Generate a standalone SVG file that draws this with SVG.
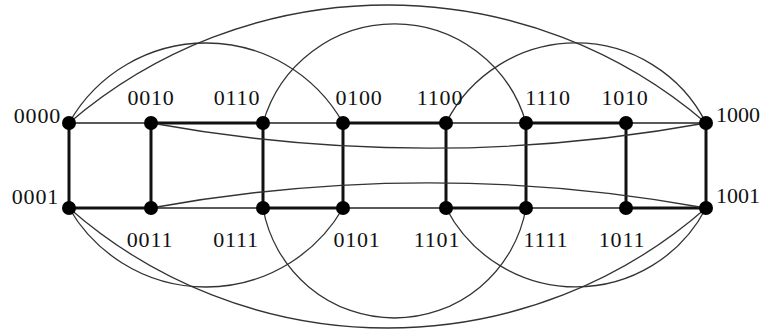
<svg xmlns="http://www.w3.org/2000/svg" width="762" height="330" viewBox="0 0 762 330">
<style>
.bg{fill:#fff}
.thin{stroke:#222;stroke-width:1.3;fill:none}
.thick{stroke:#111;stroke-width:3;fill:none}
.arc{stroke:#333;stroke-width:1.3;fill:none}
.dot{fill:#000}
.lbl{font-family:"Liberation Serif","Times New Roman",serif;font-size:22px;fill:#111;letter-spacing:0.8px}
.tight{letter-spacing:0px}
.m{text-anchor:middle}
.e{text-anchor:end}
</style>
<rect class="bg" x="0" y="0" width="762" height="330"/>
<g id="connectors">
<line class="thin" x1="69" y1="123" x2="151" y2="123"/>
<line class="thick" x1="151" y1="123" x2="263" y2="123"/>
<line class="thin" x1="263" y1="123" x2="343" y2="123"/>
<line class="thick" x1="343" y1="123" x2="446" y2="123"/>
<line class="thin" x1="446" y1="123" x2="526" y2="123"/>
<line class="thick" x1="526" y1="123" x2="626" y2="123"/>
<line class="thin" x1="626" y1="123" x2="706" y2="123"/>
<line class="thick" x1="69" y1="208" x2="151" y2="208"/>
<line class="thin" x1="151" y1="208" x2="263" y2="208"/>
<line class="thick" x1="263" y1="208" x2="343" y2="208"/>
<line class="thin" x1="343" y1="208" x2="446" y2="208"/>
<line class="thick" x1="446" y1="208" x2="526" y2="208"/>
<line class="thin" x1="526" y1="208" x2="626" y2="208"/>
<line class="thick" x1="626" y1="208" x2="706" y2="208"/>
<line class="thick" x1="69" y1="123" x2="69" y2="208"/>
<line class="thick" x1="151" y1="123" x2="151" y2="208"/>
<line class="thick" x1="263" y1="123" x2="263" y2="208"/>
<line class="thick" x1="343" y1="123" x2="343" y2="208"/>
<line class="thick" x1="446" y1="123" x2="446" y2="208"/>
<line class="thick" x1="526" y1="123" x2="526" y2="208"/>
<line class="thick" x1="626" y1="123" x2="626" y2="208"/>
<line class="thick" x1="706" y1="123" x2="706" y2="208"/>
<path class="arc" d="M69,123 A157.3,157.3 0 0 1 343,123"/>
<path class="arc" d="M263,123 A136.8,136.8 0 0 1 526,123"/>
<path class="arc" d="M446,123 A145.6,145.6 0 0 1 706,123"/>
<path class="arc" d="M69,123 A488.8,488.8 0 0 1 706,123"/>
<path class="arc" d="M151,123 A1552,1552 0 0 0 706,123"/>
<path class="arc" d="M69,208 A158.3,158.3 0 0 0 343,208"/>
<path class="arc" d="M263,208 A133.6,133.6 0 0 0 526,208"/>
<path class="arc" d="M446,208 A146.5,146.5 0 0 0 706,208"/>
<path class="arc" d="M69,208 A482.7,482.7 0 0 0 706,208"/>
<path class="arc" d="M151,208 A1552,1552 0 0 1 706,208"/>
</g>
<g id="n0000"><circle class="dot" cx="69" cy="123" r="7"/><text class="lbl e" x="61" y="123">0000</text></g>
<g id="n0010"><circle class="dot" cx="151" cy="123" r="7"/><text class="lbl m" x="151" y="105">0010</text></g>
<g id="n0110"><circle class="dot" cx="263" cy="123" r="7"/><text class="lbl m" x="237" y="105">0110</text></g>
<g id="n0100"><circle class="dot" cx="343" cy="123" r="7"/><text class="lbl m" x="359" y="105">0100</text></g>
<g id="n1100"><circle class="dot" cx="446" cy="123" r="7"/><text class="lbl m" x="440" y="105">1100</text></g>
<g id="n1110"><circle class="dot" cx="526" cy="123" r="7"/><text class="lbl m" x="548" y="105">1110</text></g>
<g id="n1010"><circle class="dot" cx="626" cy="123" r="7"/><text class="lbl m" x="625" y="105">1010</text></g>
<g id="n1000"><circle class="dot" cx="706" cy="123" r="7"/><text class="lbl tight" x="716" y="122">1000</text></g>
<g id="n0001"><circle class="dot" cx="69" cy="208" r="7"/><text class="lbl e" x="59" y="204">0001</text></g>
<g id="n0011"><circle class="dot" cx="151" cy="208" r="7"/><text class="lbl m" x="150" y="247">0011</text></g>
<g id="n0111"><circle class="dot" cx="263" cy="208" r="7"/><text class="lbl m" x="236" y="247">0111</text></g>
<g id="n0101"><circle class="dot" cx="343" cy="208" r="7"/><text class="lbl m" x="357" y="247">0101</text></g>
<g id="n1101"><circle class="dot" cx="446" cy="208" r="7"/><text class="lbl m" x="437" y="247">1101</text></g>
<g id="n1111"><circle class="dot" cx="526" cy="208" r="7"/><text class="lbl m" x="546" y="247">1111</text></g>
<g id="n1011"><circle class="dot" cx="626" cy="208" r="7"/><text class="lbl m" x="622" y="247">1011</text></g>
<g id="n1001"><circle class="dot" cx="706" cy="208" r="7"/><text class="lbl tight" x="716" y="203">1001</text></g>
</svg>
